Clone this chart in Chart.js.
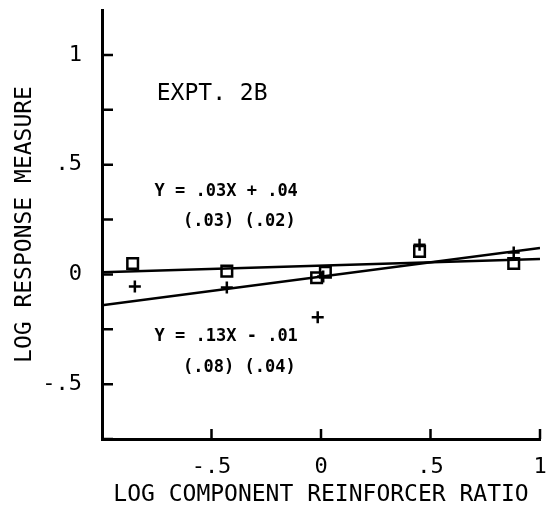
<!DOCTYPE html>
<html>
<head>
<meta charset="utf-8">
<script src="https://cdn.jsdelivr.net/npm/chart.js@4/dist/chart.umd.min.js"></script>
<style>
  html, body { margin: 0; padding: 0; background: #fff; }
  #wrap { width: 553px; height: 509px; }
</style>
</head>
<body>
<div id="wrap"><canvas id="chart"></canvas></div>
<script>
// squares: one measure, plus signs: the other
const squareX = [-0.86, -0.43, -0.02, 0.02, 0.45, 0.88];
const squareY = [0.05, 0.015, -0.015, 0.01, 0.105, 0.05];
const plusX = [-0.85, -0.43, 0.01, -0.015, 0.45, 0.88];
const plusY = [-0.055, -0.06, -0.01, -0.195, 0.135, 0.10];

// fitted lines, read at the axis ends
const fitX = [-1, 1];
const fitSquareY = [0.01, 0.07];
const fitPlusY = [-0.14, 0.12];

const xTicks = [-0.5, 0, 0.5, 1];
const yTicks = [-0.5, 0, 0.5, 1];
const yMinorTicks = [-0.75, -0.5, -0.25, 0, 0.25, 0.5, 0.75, 1];

// text notes placed in data units
const notes = [
    { text: 'EXPT. 2B', x: -0.75, y: 0.82, big: true },
    { text: 'Y = .03X + .04', x: -0.76, y: 0.377 },
    { text: '(.03) (.02)', x: -0.63, y: 0.241 },
    { text: 'Y = .13X - .01', x: -0.76, y: -0.282 },
    { text: '(.08) (.04)', x: -0.63, y: -0.423 }
];

const mono = "'DejaVu Sans Mono', 'Liberation Mono', monospace";

function toPoints(xs, ys) {
    return xs.map((x, i) => ({ x: x, y: ys[i] }));
}

function fmt(v) {
    if (v === 0) return '0';
    let s = String(v);
    return s.replace('0.', '.');
}

// inward tick marks + annotation text
const extras = {
    id: 'extras',
    afterDraw(chart) {
        const ctx = chart.ctx;
        const xs = chart.scales.x;
        const ys = chart.scales.y;
        const area = chart.chartArea;
        ctx.save();
        ctx.strokeStyle = '#000';
        ctx.lineWidth = 2.5;
        ctx.beginPath();
        yMinorTicks.forEach(v => {
            const py = ys.getPixelForValue(v);
            ctx.moveTo(area.left, py);
            ctx.lineTo(area.left + 11, py);
        });
        xTicks.forEach(v => {
            const px = xs.getPixelForValue(v);
            ctx.moveTo(px, area.bottom);
            ctx.lineTo(px, area.bottom - 10);
        });
        ctx.stroke();

        ctx.fillStyle = '#000';
        ctx.textBaseline = 'middle';
        ctx.textAlign = 'left';
        notes.forEach(n => {
            ctx.font = n.big ? "23px " + mono : "bold 17px " + mono;
            ctx.fillText(n.text, xs.getPixelForValue(n.x), ys.getPixelForValue(n.y));
        });
        ctx.restore();
    }
};

new Chart(document.getElementById('chart'), {
    type: 'scatter',
    data: {
        datasets: [
            {
                data: toPoints(squareX, squareY),
                pointStyle: 'rect',
                pointRadius: 7.5,
                pointBorderWidth: 2.5,
                borderColor: '#000',
                backgroundColor: 'rgba(0,0,0,0)'
            },
            {
                data: toPoints(plusX, plusY),
                pointStyle: 'cross',
                pointRadius: 6,
                pointBorderWidth: 2.5,
                borderColor: '#000',
                backgroundColor: '#000'
            },
            {
                type: 'line',
                data: toPoints(fitX, fitSquareY),
                borderColor: '#000',
                borderWidth: 2.5,
                pointRadius: 0,
                fill: false
            },
            {
                type: 'line',
                data: toPoints(fitX, fitPlusY),
                borderColor: '#000',
                borderWidth: 2.5,
                pointRadius: 0,
                fill: false
            }
        ]
    },
    options: {
        responsive: true,
        maintainAspectRatio: false,
        animation: false,
        layout: {
            padding: { top: 3, right: 13, left: 0, bottom: 0 }
        },
        scales: {
            x: {
                type: 'linear',
                min: -1,
                max: 1,
                afterFit(scale) {
                    scale.height = 70;
                    scale.paddingLeft = 0;
                    scale.paddingRight = 0;
                },
                afterBuildTicks(scale) {
                    scale.ticks = xTicks.map(v => ({ value: v }));
                },
                ticks: {
                    color: '#000',
                    padding: 15,
                    maxRotation: 0,
                    font: { family: mono, size: 22 },
                    callback: v => fmt(v)
                },
                grid: { display: false, drawTicks: false },
                border: { display: true, color: '#000', width: 3 },
                title: {
                    display: true,
                    text: 'LOG COMPONENT REINFORCER RATIO',
                    color: '#000',
                    font: { family: mono, size: 23 },
                    padding: { top: 0, bottom: 0 }
                }
            },
            y: {
                type: 'linear',
                min: -0.75,
                max: 1.205,
                afterFit(scale) {
                    scale.width = 102;
                    scale.paddingTop = 0;
                    scale.paddingBottom = 0;
                },
                afterBuildTicks(scale) {
                    scale.ticks = yTicks.map(v => ({ value: v }));
                },
                ticks: {
                    color: '#000',
                    padding: 20,
                    font: { family: mono, size: 22 },
                    callback: v => fmt(v)
                },
                grid: { display: false, drawTicks: false },
                border: { display: true, color: '#000', width: 3 },
                title: {
                    display: true,
                    text: 'LOG RESPONSE MEASURE',
                    color: '#000',
                    font: { family: mono, size: 23 },
                    padding: { top: 11, bottom: 0 }
                }
            }
        },
        plugins: {
            legend: { display: false },
            tooltip: { enabled: false }
        }
    },
    plugins: [extras]
});
</script>
</body>
</html>
